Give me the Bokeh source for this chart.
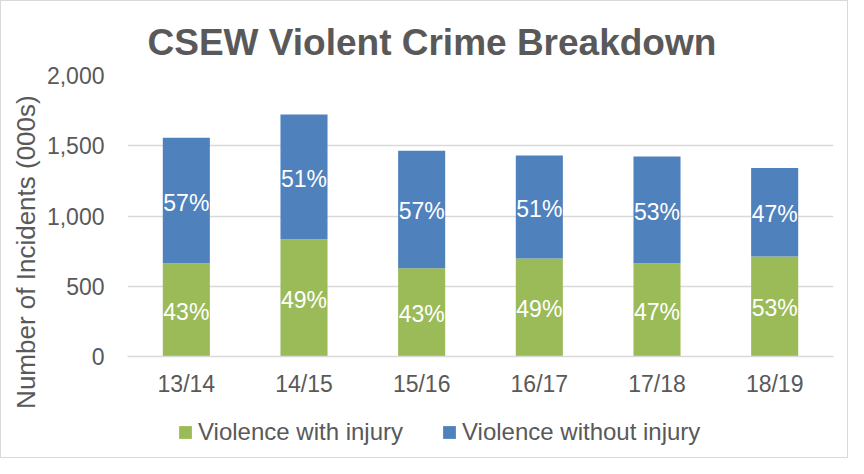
from bokeh.plotting import figure
from bokeh.layouts import column
from bokeh.models import (ColumnDataSource, FactorRange, Range1d, FixedTicker,
                          NumeralTickFormatter, Legend, LegendItem, Title, LabelSet)
from bokeh.core.properties import value
from bokeh.embed import file_html
from bokeh.resources import INLINE

years = ["13/14", "14/15", "15/16", "16/17", "17/18", "18/19"]
with_injury = [663, 835, 629, 698, 663, 712]
without_injury = [894, 888, 836, 732, 760, 630]
pct_with = ["43%", "49%", "43%", "49%", "47%", "53%"]
pct_without = ["57%", "51%", "57%", "51%", "53%", "47%"]
series_names = ["Violence with injury", "Violence without injury"]
y_ticks = [0, 500, 1000, 1500, 2000]

GREEN = "#9BBB59"
BLUE = "#4F81BD"
GRAY = "#595959"
FONT = "Liberation Sans"

source = ColumnDataSource(dict(
    years=years,
    with_injury=with_injury,
    without_injury=without_injury,
    pct_with=pct_with,
    pct_without=pct_without,
    y_with=[w / 2 for w in with_injury],
    y_without=[w + wo / 2 for w, wo in zip(with_injury, without_injury)],
))

p = figure(x_range=FactorRange(factors=years), y_range=Range1d(0, 2000),
           width=846, height=410, output_backend="svg", toolbar_location=None,
           min_border_left=126, min_border_right=14, min_border_top=74,
           min_border_bottom=55)

p.add_layout(Title(text="CSEW Violent Crime Breakdown", align="left", offset=20,
                   text_font=FONT, text_font_size="37px", text_font_style="bold",
                   text_color=GRAY, standoff=26), "above")

p.vbar_stack(["with_injury", "without_injury"], x="years", width=0.4,
             color=[GREEN, BLUE], line_color=None, source=source)

for col, ycol in (("pct_with", "y_with"), ("pct_without", "y_without")):
    p.add_layout(LabelSet(x="years", y=ycol, text=col, source=source,
                          text_align="center", text_baseline="middle",
                          y_offset=-2,
                          text_color="white", text_font=value(FONT),
                          text_font_size="23px"))

p.outline_line_color = None
p.xgrid.grid_line_color = None
p.ygrid.grid_line_color = "#d9d9d9"
p.ygrid.grid_line_width = 1.5

p.yaxis.ticker = FixedTicker(ticks=y_ticks)
p.yaxis.formatter = NumeralTickFormatter(format="0,0")
p.yaxis.axis_line_color = None
p.yaxis.major_tick_line_color = None
p.yaxis.minor_tick_line_color = None
p.yaxis.major_label_standoff = 17
# trailing no-break spaces shift the centred label downwards, as in the reference
p.yaxis.axis_label = "Number of Incidents (000s)" + "\u00a0" * 10
p.yaxis.axis_label_standoff = 3
p.yaxis.axis_label_text_font = FONT
p.yaxis.axis_label_text_font_size = "26px"
p.yaxis.axis_label_text_font_style = "normal"
p.yaxis.axis_label_text_color = GRAY

p.xaxis.axis_line_color = "#d9d9d9"
p.xaxis.axis_line_width = 1.5
p.xaxis.major_tick_line_color = None
p.xaxis.minor_tick_line_color = None
p.xaxis.major_label_standoff = 8

for ax in (p.xaxis, p.yaxis):
    ax.major_label_text_font = FONT
    ax.major_label_text_font_size = "23px"
    ax.major_label_text_color = GRAY

# legend strip below the chart (its frame is aligned with the chart's frame)
q = figure(x_range=Range1d(0, 1), y_range=Range1d(0, 1), width=846, height=46,
           output_backend="svg", toolbar_location=None,
           min_border_left=0, min_border_right=0, min_border_top=0, min_border_bottom=0)
q.axis.visible = False
q.grid.visible = False
q.outline_line_color = None
# zero-size swatch carriers for the legend
r_green = q.vbar(x=[0], top=[0], width=0, color=GREEN, line_color=None)
r_blue = q.vbar(x=[0], top=[0], width=0, color=BLUE, line_color=None)

legend = Legend(items=[LegendItem(label=series_names[0], renderers=[r_green]),
                       LegendItem(label=series_names[1], renderers=[r_blue])],
                orientation="horizontal", location=(50, 11),
                glyph_width=16, glyph_height=16, label_standoff=5, spacing=38,
                padding=0, margin=0, border_line_color=None,
                background_fill_alpha=0,
                label_text_font=FONT, label_text_font_size="24px",
                label_text_color=GRAY)
q.add_layout(legend, "center")

layout = column(p, q, spacing=0, styles={"border": "1px solid #d9d9d9"})

open("out.html", "w").write(file_html(layout, INLINE))
